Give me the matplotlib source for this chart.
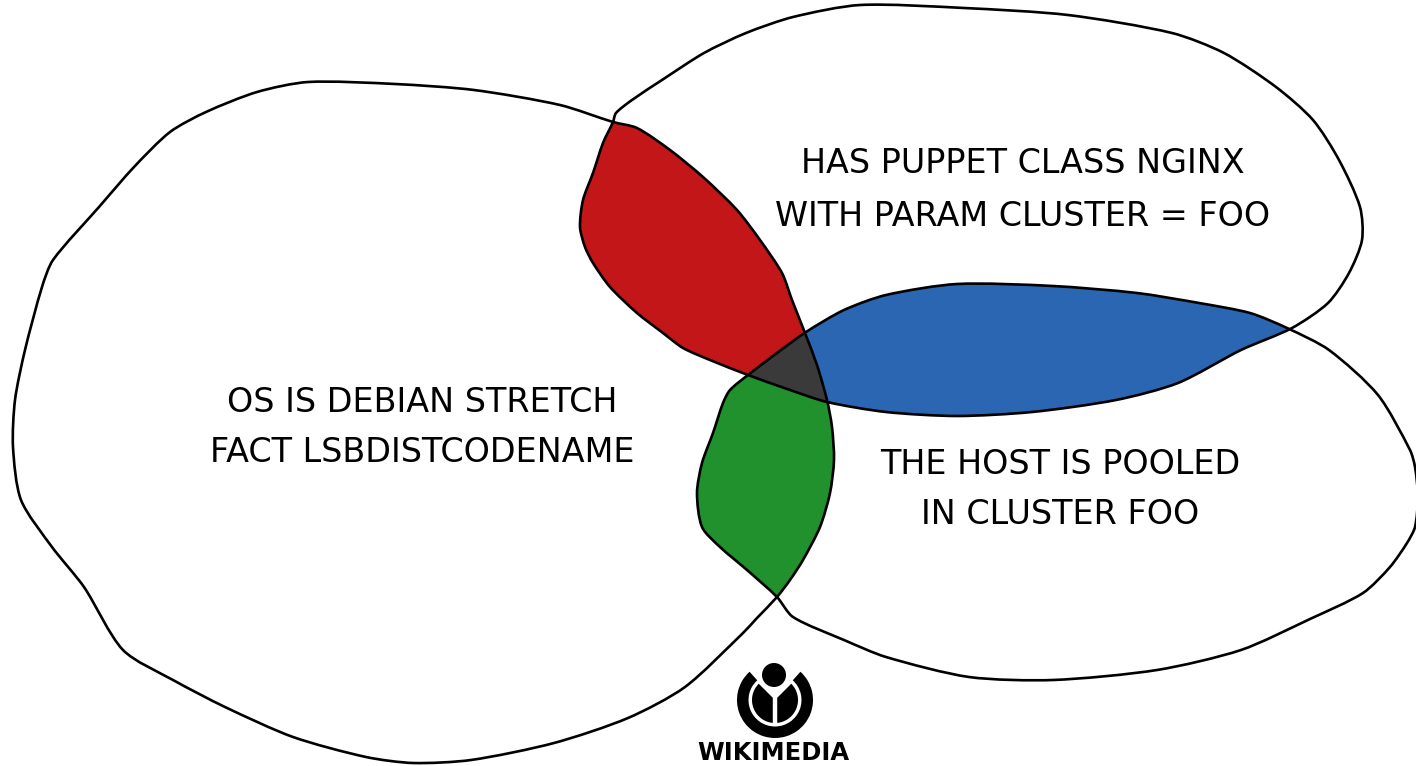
import numpy as np
import matplotlib
matplotlib.use("Agg")
import matplotlib.pyplot as plt
from matplotlib.path import Path
from matplotlib.patches import PathPatch, Wedge, Circle

# ---- data: set outlines (pixel coords) ----
set_os_outline = [(308, 82), (395, 84), (474, 90), (560, 105), (613, 122), (637, 128), (670, 150),
                  (703, 177), (737, 210), (760, 240), (782, 273), (792, 300), (805, 333), (817, 365),
                  (827, 400), (832, 427), (834, 460), (830, 493), (820, 527), (803, 560), (790, 580),
                  (777, 597), (757, 618), (743, 633), (685, 687), (628, 718), (554, 743), (471, 760),
                  (413, 763), (366, 757), (293, 737), (225, 707), (173, 680), (123, 650), (84, 587),
                  (52, 547), (21, 500), (13, 447), (15, 400), (25, 350), (42, 287), (53, 260),
                  (99, 207), (134, 167), (170, 132), (206, 112), (257, 92)]
set_puppet_outline = [(613, 122), (616, 113), (632, 100), (662, 80), (704, 53), (746, 33), (793, 17),
                      (860, 5), (964, 8), (1068, 15), (1172, 33), (1224, 53), (1276, 87), (1313, 120),
                      (1339, 160), (1360, 207), (1362, 240), (1349, 273), (1328, 303), (1292, 328),
                      (1241, 350), (1178, 383), (1116, 400), (1032, 412), (957, 416), (886, 412),
                      (827, 402), (790, 390), (748, 375), (710, 360), (683, 348), (663, 333),
                      (637, 313), (610, 287), (593, 263), (585, 247), (580, 227), (583, 200),
                      (593, 173), (603, 143)]
set_pool_outline = [(748, 375), (777, 353), (806, 332), (844, 310), (886, 295), (957, 284), (1053, 286),
                    (1137, 293), (1199, 303), (1250, 313), (1287, 328), (1329, 350),
                    (1378, 395), (1410, 450), (1415, 467), (1418, 497), (1415, 527), (1407, 543),
                    (1390, 567), (1363, 593), (1310, 619), (1241, 650), (1157, 670), (1053, 680),
                    (969, 677), (886, 657), (844, 640), (793, 617), (777, 597), (747, 570), (720, 547),
                    (702, 527), (697, 493), (702, 463), (713, 433), (723, 403), (730, 390)]

label_os = ["OS IS DEBIAN STRETCH", "FACT LSBDISTCODENAME"]
label_puppet = ["HAS PUPPET CLASS NGINX", "WITH PARAM CLUSTER = FOO"]
label_pool = ["THE HOST IS POOLED", "IN CLUSTER FOO"]

# region colours: os&puppet, puppet&pool, os&pool, all three
color_os_puppet = "#C31618"
color_puppet_pool = "#2A66B2"
color_os_pool = "#21912E"
color_all = "#3A3A3A"
logo_text = "WIKIMEDIA"


def smooth_closed_path(points, k=0.8):
    """Closed Bezier path through the outline vertices (length-scaled tangents, no overshoot)."""
    p = np.asarray(points, dtype=float)
    n = len(p)
    tang = []
    for i in range(n):
        d = p[(i + 1) % n] - p[i - 1]
        tang.append(d / (np.hypot(*d) + 1e-9))
    verts = [p[0]]
    codes = [Path.MOVETO]
    for i in range(n):
        a, b = p[i], p[(i + 1) % n]
        L = np.hypot(*(b - a))
        verts += [a + tang[i] * L * k / 3, b - tang[(i + 1) % n] * L * k / 3, b]
        codes += [Path.CURVE4] * 3
    verts.append(p[0])
    codes.append(Path.CLOSEPOLY)
    return Path(np.array(verts), codes)


# ---- figure ----
W, H = 1416, 766
fig = plt.figure(figsize=(W / 100, H / 100), dpi=100)
ax = fig.add_axes([0, 0, 1, 1])
ax.set_xlim(0, W)
ax.set_ylim(H, 0)
ax.axis("off")

paths = [smooth_closed_path(o) for o in (set_os_outline, set_puppet_outline, set_pool_outline)]

# region fills via point-in-path masks
xs = np.arange(W) + 0.5
ys = np.arange(H) + 0.5
gx, gy = np.meshgrid(xs, ys)
pts = np.column_stack([gx.ravel(), gy.ravel()])
inA, inB, inC = [pth.contains_points(pts).reshape(H, W) for pth in paths]

img = np.ones((H, W, 4))
def paint(mask, col):
    img[mask] = matplotlib.colors.to_rgba(col)
paint(inA & inB & ~inC, color_os_puppet)
paint(inB & inC & ~inA, color_puppet_pool)
paint(inA & inC & ~inB, color_os_pool)
paint(inA & inB & inC, color_all)
ax.imshow(img, extent=[0, W, H, 0], interpolation="nearest", zorder=1)

for pth in paths:
    ax.add_patch(PathPatch(pth, fill=False, edgecolor="black",
                           linewidth=1.9, joinstyle="round", zorder=3))

# labels
font = dict(fontsize=24, family="DejaVu Sans", ha="center", va="baseline", color="black", zorder=4)
for (cx, ys_), lines in (((422, (412, 462)), label_os),
                         ((1023, (173, 226)), label_puppet),
                         ((1060, (474, 524)), label_pool)):
    for yb, txt in zip(ys_, lines):
        ax.text(cx, yb, txt, **font)

# Wikimedia logo
lx, ly = 775, 700
ax.add_patch(Wedge((lx, ly), 38, 312, 588, width=11.5, facecolor="black", edgecolor="none", zorder=4))
ax.add_patch(Wedge((lx, ly), 23, 315, 585, facecolor="black", edgecolor="none", zorder=4))
ax.plot([lx, lx], [ly - 2, ly + 25], color="white", linewidth=3.2, solid_capstyle="butt", zorder=5)
ax.add_patch(Circle((lx - 1, 675), 12, facecolor="black", edgecolor="none", zorder=4))
ax.text(lx - 2, 765.5, logo_text, fontsize=17.5, family="DejaVu Sans", fontweight="bold",
        ha="center", va="bottom", color="black", zorder=4)

fig.savefig("out.png", dpi=100, facecolor="white")
